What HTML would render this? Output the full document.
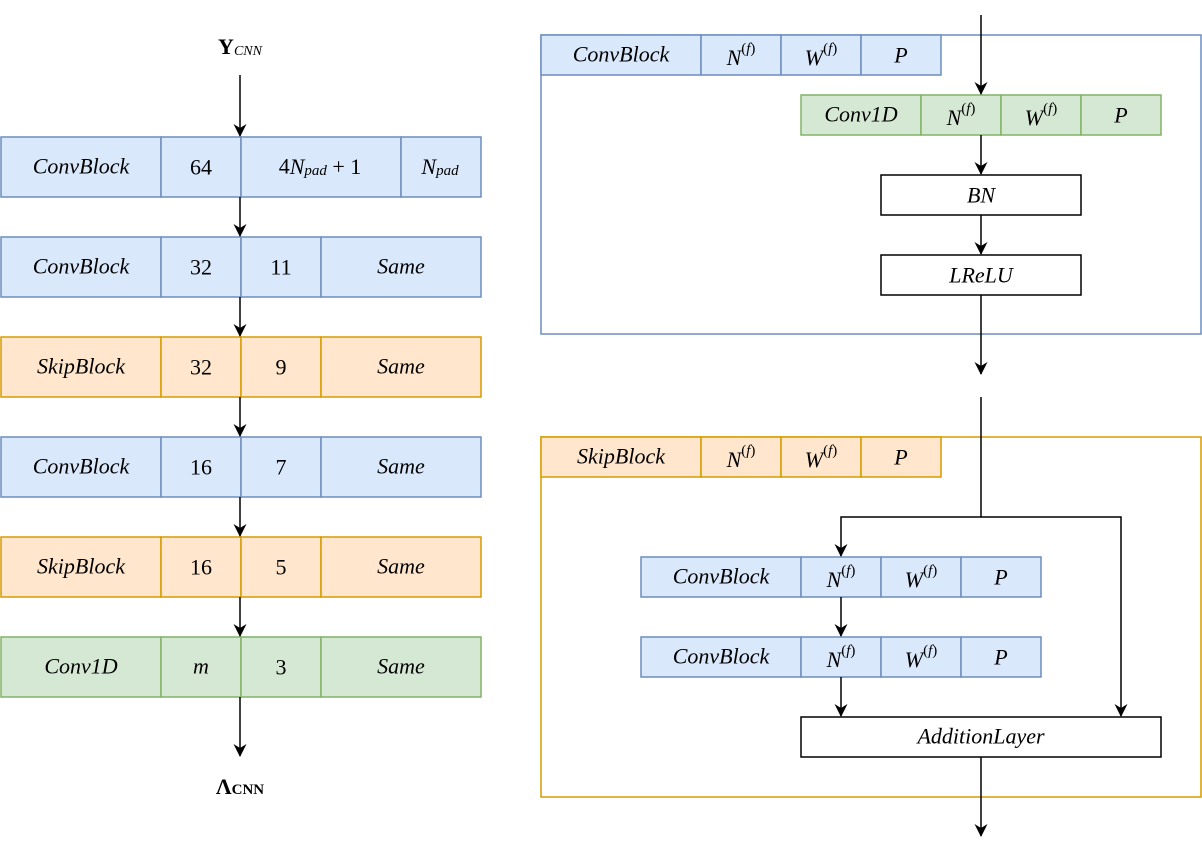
<!DOCTYPE html>
<html><head><meta charset="utf-8"><style>
html,body{margin:0;padding:0;background:#fff;}
svg text{font-family:"Liberation Serif",serif;font-size:22px;}
.i{font-style:italic;}
</style></head><body>
<svg width="1202" height="854" viewBox="0 0 1202 854" xmlns="http://www.w3.org/2000/svg">
<defs><marker id="a" markerWidth="14" markerHeight="14" refX="12" refY="6.5" orient="auto" markerUnits="userSpaceOnUse"><path d="M0,0 L13,6.5 L0,13 L4,6.5 z" fill="#000"/></marker></defs>
<g stroke-width="1.5">
<g fill="#dae8fc" stroke="#6c8ebf">
<rect x="1" y="137" width="160" height="60"/><rect x="161" y="137" width="80" height="60"/><rect x="241" y="137" width="160" height="60"/><rect x="401" y="137" width="80" height="60"/>
<rect x="1" y="237" width="160" height="60"/><rect x="161" y="237" width="80" height="60"/><rect x="241" y="237" width="80" height="60"/><rect x="321" y="237" width="160" height="60"/>
<rect x="1" y="437" width="160" height="60"/><rect x="161" y="437" width="80" height="60"/><rect x="241" y="437" width="80" height="60"/><rect x="321" y="437" width="160" height="60"/>
</g>
<g fill="#ffe6cc" stroke="#d79b00">
<rect x="1" y="337" width="160" height="60"/><rect x="161" y="337" width="80" height="60"/><rect x="241" y="337" width="80" height="60"/><rect x="321" y="337" width="160" height="60"/>
<rect x="1" y="537" width="160" height="60"/><rect x="161" y="537" width="80" height="60"/><rect x="241" y="537" width="80" height="60"/><rect x="321" y="537" width="160" height="60"/>
</g>
<g fill="#d5e8d4" stroke="#82b366">
<rect x="1" y="637" width="160" height="60"/><rect x="161" y="637" width="80" height="60"/><rect x="241" y="637" width="80" height="60"/><rect x="321" y="637" width="160" height="60"/>
</g>
<g stroke="#000" marker-end="url(#a)">
<line x1="240" y1="75" x2="240" y2="136"/>
<line x1="240" y1="197" x2="240" y2="236"/>
<line x1="240" y1="297" x2="240" y2="336"/>
<line x1="240" y1="397" x2="240" y2="436"/>
<line x1="240" y1="497" x2="240" y2="536"/>
<line x1="240" y1="597" x2="240" y2="636"/>
<line x1="240" y1="697" x2="240" y2="756"/>
</g>
<rect x="541" y="35" width="660" height="299" fill="none" stroke="#6c8ebf"/>
<g fill="#dae8fc" stroke="#6c8ebf">
<rect x="541" y="35" width="160" height="40"/><rect x="701" y="35" width="80" height="40"/><rect x="781" y="35" width="80" height="40"/><rect x="861" y="35" width="80" height="40"/>
</g>
<g fill="#d5e8d4" stroke="#82b366">
<rect x="801" y="95" width="120" height="40"/><rect x="921" y="95" width="80" height="40"/><rect x="1001" y="95" width="80" height="40"/><rect x="1081" y="95" width="80" height="40"/>
</g>
<rect x="881" y="175" width="200" height="40" fill="#fff" stroke="#000"/>
<rect x="881" y="255" width="200" height="40" fill="#fff" stroke="#000"/>
<g stroke="#000" marker-end="url(#a)">
<line x1="981" y1="15" x2="981" y2="94"/>
<line x1="981" y1="135" x2="981" y2="174"/>
<line x1="981" y1="215" x2="981" y2="254"/>
<line x1="981" y1="295" x2="981" y2="374"/>
</g>
<rect x="541" y="437" width="660" height="360" fill="none" stroke="#d79b00"/>
<g fill="#ffe6cc" stroke="#d79b00">
<rect x="541" y="437" width="160" height="40"/><rect x="701" y="437" width="80" height="40"/><rect x="781" y="437" width="80" height="40"/><rect x="861" y="437" width="80" height="40"/>
</g>
<g fill="#dae8fc" stroke="#6c8ebf">
<rect x="641" y="557" width="160" height="40"/><rect x="801" y="557" width="80" height="40"/><rect x="881" y="557" width="80" height="40"/><rect x="961" y="557" width="80" height="40"/>
<rect x="641" y="637" width="160" height="40"/><rect x="801" y="637" width="80" height="40"/><rect x="881" y="637" width="80" height="40"/><rect x="961" y="637" width="80" height="40"/>
</g>
<rect x="801" y="717" width="360" height="40" fill="#fff" stroke="#000"/>
<polyline points="981,397 981,517 841,517 841,556" fill="none" stroke="#000" marker-end="url(#a)"/>
<polyline points="981,517 1121,517 1121,716" fill="none" stroke="#000" marker-end="url(#a)"/>
<g stroke="#000" marker-end="url(#a)">
<line x1="841" y1="597" x2="841" y2="636"/>
<line x1="841" y1="677" x2="841" y2="716"/>
<line x1="981" y1="757" x2="981" y2="836"/>
</g>
</g>
<g text-anchor="middle" dominant-baseline="central">
<text x="240" y="46"><tspan font-weight="bold">Y</tspan><tspan class="i" font-size="14" dy="5">CNN</tspan></text>
<text x="240" y="786"><tspan font-weight="bold">Λ</tspan><tspan font-weight="bold" font-size="15" dy="4">CNN</tspan></text>
<text x="81" y="166" class="i">ConvBlock</text><text x="201" y="167">64</text><text x="320" y="166">4<tspan class="i">N</tspan><tspan class="i" font-size="15" dy="5">pad</tspan><tspan dy="-5"> + 1</tspan></text><text x="440" y="166"><tspan class="i">N</tspan><tspan class="i" font-size="15" dy="5">pad</tspan></text>
<text x="81" y="266" class="i">ConvBlock</text><text x="201" y="267">32</text><text x="281" y="267">11</text><text x="401" y="266" class="i">Same</text>
<text x="81" y="366" class="i">SkipBlock</text><text x="201" y="367">32</text><text x="281" y="367">9</text><text x="401" y="366" class="i">Same</text>
<text x="81" y="466" class="i">ConvBlock</text><text x="201" y="467">16</text><text x="281" y="467">7</text><text x="401" y="466" class="i">Same</text>
<text x="81" y="566" class="i">SkipBlock</text><text x="201" y="567">16</text><text x="281" y="567">5</text><text x="401" y="566" class="i">Same</text>
<text x="81" y="666" class="i">Conv1D</text><text x="201" y="666" class="i">m</text><text x="281" y="667">3</text><text x="401" y="666" class="i">Same</text>

<text x="621" y="54" class="i">ConvBlock</text><text x="741" y="57"><tspan class="i">N</tspan><tspan font-size="15" dy="-8">(<tspan class="i">f</tspan>)</tspan></text><text x="821" y="57"><tspan class="i">W</tspan><tspan font-size="15" dy="-8">(<tspan class="i">f</tspan>)</tspan></text><text x="901" y="55" class="i">P</text>
<text x="861" y="114" class="i">Conv1D</text><text x="961" y="117"><tspan class="i">N</tspan><tspan font-size="15" dy="-8">(<tspan class="i">f</tspan>)</tspan></text><text x="1041" y="117"><tspan class="i">W</tspan><tspan font-size="15" dy="-8">(<tspan class="i">f</tspan>)</tspan></text><text x="1121" y="115" class="i">P</text>
<text x="981" y="195" class="i">BN</text>
<text x="981" y="275" class="i">LReLU</text>
<text x="621" y="456" class="i">SkipBlock</text><text x="741" y="459"><tspan class="i">N</tspan><tspan font-size="15" dy="-8">(<tspan class="i">f</tspan>)</tspan></text><text x="821" y="459"><tspan class="i">W</tspan><tspan font-size="15" dy="-8">(<tspan class="i">f</tspan>)</tspan></text><text x="901" y="457" class="i">P</text>
<text x="721" y="576" class="i">ConvBlock</text><text x="841" y="579"><tspan class="i">N</tspan><tspan font-size="15" dy="-8">(<tspan class="i">f</tspan>)</tspan></text><text x="921" y="579"><tspan class="i">W</tspan><tspan font-size="15" dy="-8">(<tspan class="i">f</tspan>)</tspan></text><text x="1001" y="577" class="i">P</text>
<text x="721" y="656" class="i">ConvBlock</text><text x="841" y="659"><tspan class="i">N</tspan><tspan font-size="15" dy="-8">(<tspan class="i">f</tspan>)</tspan></text><text x="921" y="659"><tspan class="i">W</tspan><tspan font-size="15" dy="-8">(<tspan class="i">f</tspan>)</tspan></text><text x="1001" y="657" class="i">P</text>
<text x="981" y="736" class="i">AdditionLayer</text>
</g>
</svg>
</body></html>
